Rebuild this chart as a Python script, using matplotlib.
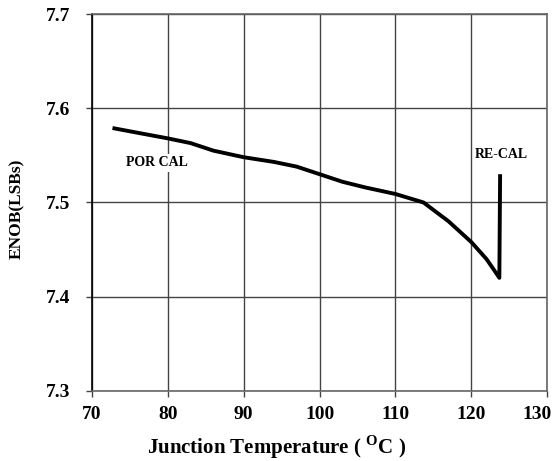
import matplotlib
matplotlib.use("Agg")
import matplotlib.pyplot as plt
from matplotlib.transforms import ScaledTranslation

plt.rcParams['font.family'] = ['Liberation Serif', 'DejaVu Serif']
plt.rcParams['font.weight'] = 'bold'
plt.rcParams['mathtext.fontset'] = 'custom'
plt.rcParams['mathtext.rm'] = 'Liberation Serif:bold'
plt.rcParams['mathtext.bf'] = 'Liberation Serif:bold'

temp = [72.7, 76, 80, 83, 86, 90, 94, 97, 100, 103, 106, 110, 113.7, 117, 120, 122, 123.2, 123.7, 123.8]
enob = [7.579, 7.574, 7.568, 7.563, 7.555, 7.548, 7.543, 7.538, 7.530, 7.522, 7.516, 7.509,
        7.500, 7.480, 7.458, 7.440, 7.426, 7.420, 7.530]
xticks = [70, 80, 90, 100, 110, 120, 130]
yticks = [7.3, 7.4, 7.5, 7.6, 7.7]

W, H = 553, 461
fig = plt.figure(figsize=(W / 100, H / 100), dpi=100)
ax = fig.add_axes([0.1664, 0.152, 0.823, 0.8176])
ax.set_xlim(70, 130)
ax.set_ylim(7.3, 7.7)
ax.set_xticks(xticks)
ax.set_yticks(yticks)
ax.set_xticklabels([str(v) for v in xticks], fontsize=14, fontweight='bold')
ax.set_yticklabels([f"{v:.1f}" for v in yticks], fontsize=14, fontweight='bold')
ax.tick_params(axis='x', direction='out', length=4, width=1, color='#444444', pad=7)
ax.tick_params(axis='y', direction='out', length=4, width=1, color='#444444', pad=12)
# shift last x label left so it stays inside the figure
lbl = ax.get_xticklabels()[-1]
lbl.set_transform(lbl.get_transform() + ScaledTranslation(-0.10, 0, fig.dpi_scale_trans))

ax.grid(True, color='#444444', linewidth=1)
ax.set_axisbelow(True)
for s in ['top', 'right', 'bottom']:
    ax.spines[s].set_color('#666666')
    ax.spines[s].set_linewidth(1.2)
ax.spines['left'].set_color('black')
ax.spines['left'].set_linewidth(1.2)

ax.plot(temp, enob, color='black', linewidth=2.8, solid_joinstyle='round', solid_capstyle='butt', zorder=3)

ax.text(78.5, 7.542, 'POR CAL', fontsize=10, fontweight='bold', ha='center', va='center',
        bbox=dict(facecolor='white', edgecolor='none', pad=2), zorder=4)
ax.text(124.0, 7.551, 'RE-CAL', fontsize=10, fontweight='bold', ha='center', va='center', zorder=4)

fig.text(277 / W, 1 - 447 / H, r'Junction Temperature ( $^{\rm O}$C )', fontsize=15,
         fontweight='bold', ha='center', va='center')
fig.text(17 / W, 1 - 209 / H, 'ENOB(LSBs)', fontsize=12.5, fontweight='bold',
         ha='center', va='center', rotation=90)

fig.savefig('out.png', dpi=100)
